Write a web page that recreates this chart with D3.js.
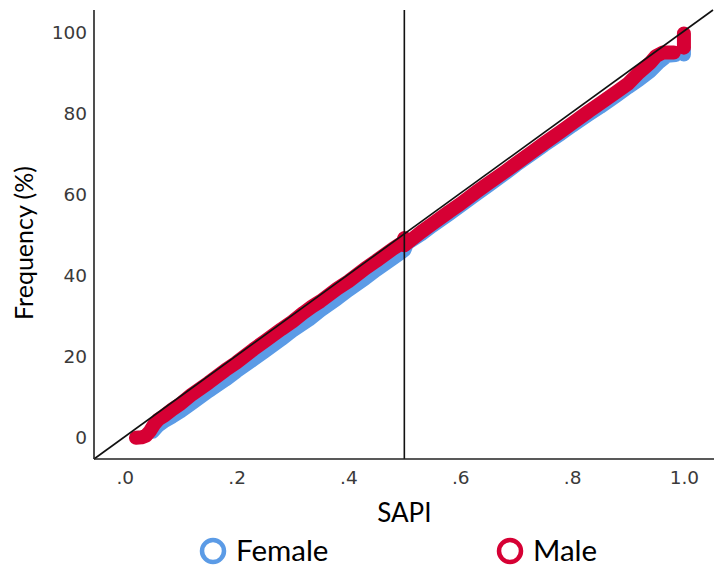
<!DOCTYPE html>
<html>
<head>
<meta charset="utf-8">
<script src="https://cdn.jsdelivr.net/npm/d3@7"></script>
<style>
  body { margin: 0; background: #fff; }
  svg { display: block; }
</style>
</head>
<body>
<svg id="chart" width="714" height="570"></svg>
<script>
// cumulative frequency (%) against SAPI
// null = break in the run of markers
var femaleX = [0.05, 0.06, 0.07, 0.085, 0.1, 0.12, 0.15, 0.18, 0.2, 0.23, 0.25, 0.28, 0.3, 0.33, 0.35, 0.38, 0.4, 0.43, 0.45, 0.48, 0.495, 0.5, 0.505, 0.53, 0.55, 0.58, 0.6, 0.63, 0.65, 0.68, 0.7, 0.73, 0.75, 0.78, 0.8, 0.83, 0.85, 0.88, 0.9, 0.92, 0.94, 0.955, 0.97, 0.985, null, 1.0, 1.0];
var femaleY = [1.5, 3, 4, 5.2, 6.5, 8.5, 11.5, 14.3, 16.4, 19.3, 21.3, 24.3, 26.4, 29.2, 31.4, 34.3, 36.4, 39.3, 41.4, 44.3, 45.8, 46.3, 48, 50.2, 52.3, 55.2, 57.2, 60.2, 62.2, 65.2, 67.3, 70.2, 72.2, 75, 77, 79.8, 81.6, 84.5, 86.5, 88.4, 90.5, 92.6, 94.3, 94.5, null, 94.6, 96];

var maleX = [0.02, 0.03, 0.038, 0.045, 0.052, 0.06, 0.07, 0.085, 0.1, 0.12, 0.15, 0.18, 0.2, 0.23, 0.25, 0.28, 0.3, 0.32, 0.335, 0.35, 0.38, 0.4, 0.43, 0.45, 0.48, 0.497, 0.5, 0.5, 0.51, 0.53, 0.55, 0.58, 0.6, 0.63, 0.65, 0.68, 0.7, 0.73, 0.75, 0.78, 0.8, 0.83, 0.85, 0.88, 0.9, 0.92, 0.94, 0.95, 0.962, 0.982, null, 1.0, 1.0];
var maleY = [0, 0.1, 0.5, 1.6, 3.2, 4.5, 5.4, 7, 8.4, 10.7, 13.6, 16.7, 18.6, 21.8, 23.8, 26.8, 28.7, 30.9, 32.4, 33.7, 36.8, 38.6, 41.8, 43.7, 46.7, 48.2, 49.3, 47.5, 48.6, 50.8, 52.8, 55.8, 57.7, 60.8, 62.8, 65.7, 67.7, 70.7, 72.7, 75.6, 77.6, 80.6, 82.5, 85.4, 87.4, 90.2, 92.6, 94.2, 95.1, 95.1, null, 96.3, 99.8];

var xTicks = [0, 0.2, 0.4, 0.6, 0.8, 1.0];
var xTickLabels = [".0", ".2", ".4", ".6", ".8", "1.0"];
var yTicks = [0, 20, 40, 60, 80, 100];
var legendNames = ["Female", "Male"];
var colors = ["#5b9be6", "#d60034"];

(function () {
  var svg = d3.select("#chart");
  var mLeft = 94, mRight = 713, mTop = 10, mBottom = 459;

  var x = d3.scaleLinear().domain([-0.055, 1.052]).range([mLeft, mRight]);
  var y = d3.scaleLinear().domain([-5.25, 105.6]).range([mBottom, mTop]);

  // axes (no tick marks, just the labels)
  var yAxis = d3.axisLeft(y).tickValues(yTicks).tickSize(0).tickPadding(7);
  var gy = svg.append("g").attr("transform", "translate(" + mLeft + ",0)").call(yAxis);
  gy.select(".domain").remove();
  gy.selectAll("text")
    .attr("font-family", "DejaVu Sans")
    .attr("font-size", 18.5)
    .attr("fill", "#3a3a3a");

  var xAxis = d3.axisBottom(x).tickValues(xTicks).tickSize(0).tickPadding(12)
    .tickFormat(function (d, i) { return xTickLabels[i]; });
  var gx = svg.append("g").attr("transform", "translate(0," + mBottom + ")").call(xAxis);
  gx.select(".domain").remove();
  gx.selectAll("text")
    .attr("font-family", "DejaVu Sans")
    .attr("font-size", 18.5)
    .attr("fill", "#3a3a3a");

  // series: dense markers that merge into thick bands
  var line = d3.line()
    .defined(function (d) { return d[0] != null && d[1] != null; })
    .x(function (d) { return x(d[0]); })
    .y(function (d) { return y(d[1]); });
  var series = [d3.zip(femaleX, femaleY), d3.zip(maleX, maleY)];
  series.forEach(function (pts, i) {
    svg.append("path")
      .attr("d", line(pts))
      .attr("fill", "none")
      .attr("stroke", colors[i])
      .attr("stroke-width", 14)
      .attr("stroke-linecap", "round")
      .attr("stroke-linejoin", "round");
  });

  // reference lines
  svg.append("line")
    .attr("x1", x(-0.055)).attr("y1", y(-5.25))
    .attr("x2", x(1.052)).attr("y2", y(105.6))
    .attr("stroke", "#111").attr("stroke-width", 1.6);
  svg.append("line")
    .attr("x1", x(0.5)).attr("x2", x(0.5))
    .attr("y1", mTop).attr("y2", mBottom)
    .attr("stroke", "#111").attr("stroke-width", 1.6);

  // frame lines
  svg.append("line").attr("x1", mLeft).attr("x2", mLeft).attr("y1", mTop).attr("y2", mBottom)
    .attr("stroke", "#222").attr("stroke-width", 1.6);
  svg.append("line").attr("x1", mLeft).attr("x2", 714).attr("y1", mBottom).attr("y2", mBottom)
    .attr("stroke", "#222").attr("stroke-width", 1.6);

  // titles
  svg.append("text")
    .attr("transform", "translate(33,243) rotate(-90)")
    .attr("text-anchor", "middle")
    .attr("font-family", "Lato")
    .attr("font-size", 25)
    .attr("fill", "#000")
    .text("Frequency (%)");
  svg.append("text")
    .attr("x", x(0.5)).attr("y", 522)
    .attr("text-anchor", "middle")
    .attr("font-family", "Lato")
    .attr("font-size", 26)
    .attr("fill", "#000")
    .text("SAPI");

  // legend
  var legendX = [213, 510];
  legendNames.forEach(function (name, i) {
    svg.append("circle")
      .attr("cx", legendX[i]).attr("cy", 551).attr("r", 11)
      .attr("fill", "none").attr("stroke", colors[i]).attr("stroke-width", 4.5);
    svg.append("text")
      .attr("x", legendX[i] + 23).attr("y", 561)
      .attr("font-family", "Lato")
      .attr("font-size", 29.5)
      .attr("fill", "#000")
      .text(name);
  });
})();
</script>
</body>
</html>
